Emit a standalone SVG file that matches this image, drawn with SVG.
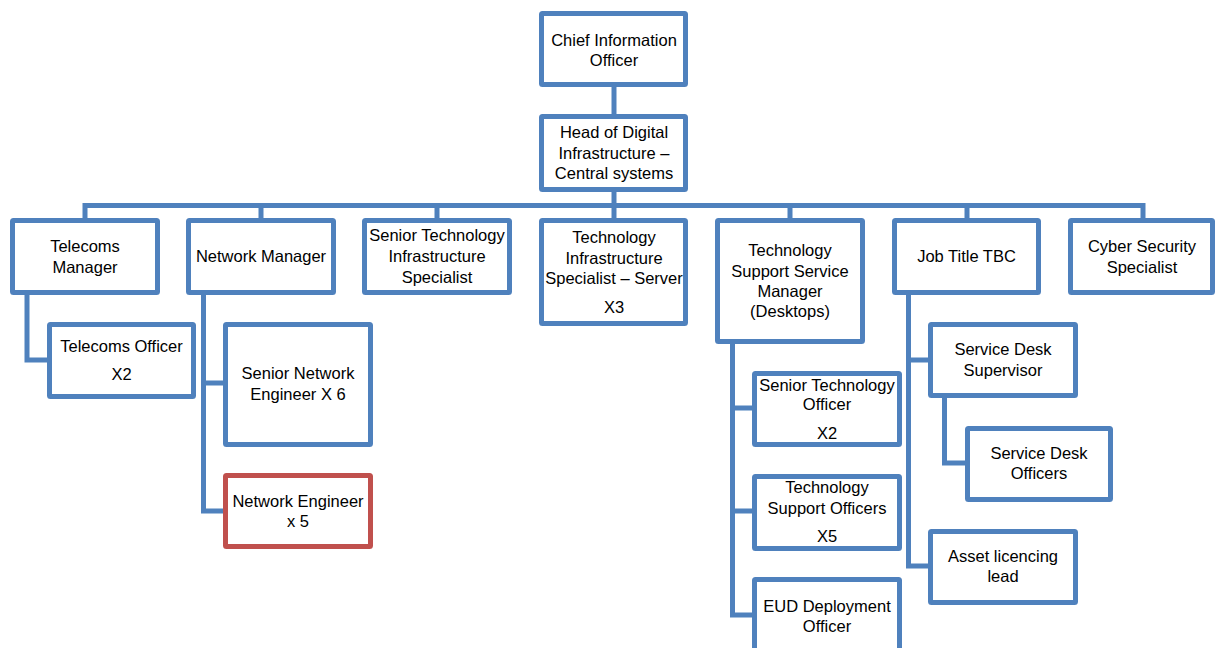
<svg xmlns="http://www.w3.org/2000/svg" width="1215" height="648" viewBox="0 0 1215 648">
<style>
.b{fill:#fff;stroke:#4F81BD;stroke-width:5}
.r{fill:#fff;stroke:#C0504D;stroke-width:5}
.c{fill:none;stroke:#4F81BD;stroke-width:5;stroke-linejoin:miter}
text{font-family:"Liberation Sans",Arial,sans-serif;font-size:16.5px;fill:#000;text-anchor:middle}
</style>
<rect width="1215" height="648" fill="#fff"/>
<g id="connectors">
<path class="c" d="M614,84.5V116.5"/>
<path class="c" d="M614,189.5V220.5"/>
<path class="c" d="M85,220.5V205.5H1143V220.5"/>
<path class="c" d="M261,205.5V220.5M437,205.5V220.5M790,205.5V220.5M967,205.5V220.5"/>
<path class="c" d="M27,292.5V360H49.5"/>
<path class="c" d="M203.5,292.5V511H225.5M203.5,383H225.5"/>
<path class="c" d="M732.5,341.5V615H754.5M732.5,408H754.5M732.5,511H754.5"/>
<path class="c" d="M908.5,292.5V566H930.5M908.5,360H930.5"/>
<path class="c" d="M944.5,395.5V463H967.5"/>
</g>
<g id="cio"><rect class="b" x="541.5" y="13.5" width="144" height="71" rx="1"/><text x="614" y="45.5">Chief Information</text><text x="614" y="66">Officer</text></g>
<g id="head"><rect class="b" x="541.5" y="116.5" width="144" height="73" rx="1"/><text x="614" y="138">Head of Digital</text><text x="614" y="158.5">Infrastructure –</text><text x="614" y="179">Central systems</text></g>
<g id="telecoms-manager"><rect class="b" x="12.5" y="220.5" width="145" height="72" rx="1"/><text x="85" y="252">Telecoms</text><text x="85" y="273">Manager</text></g>
<g id="network-manager"><rect class="b" x="188.5" y="220.5" width="145" height="72" rx="1"/><text x="261" y="262">Network Manager</text></g>
<g id="senior-tis"><rect class="b" x="364.5" y="220.5" width="145" height="72" rx="1"/><text x="437" y="241">Senior Technology</text><text x="437" y="262">Infrastructure</text><text x="437" y="283">Specialist</text></g>
<g id="tis-server"><rect class="b" x="541.5" y="220.5" width="144" height="103" rx="1"/><text x="614" y="243">Technology</text><text x="614" y="264">Infrastructure</text><text x="614" y="284">Specialist – Server</text><text x="614" y="313">X3</text></g>
<g id="tssm"><rect class="b" x="717.5" y="220.5" width="145" height="121" rx="1"/><text x="790" y="256">Technology</text><text x="790" y="277">Support Service</text><text x="790" y="297">Manager</text><text x="790" y="317">(Desktops)</text></g>
<g id="job-title"><rect class="b" x="894.5" y="220.5" width="144" height="72" rx="1"/><text x="966.5" y="262">Job Title TBC</text></g>
<g id="cyber"><rect class="b" x="1070.5" y="220.5" width="142" height="72" rx="1"/><text x="1142" y="252">Cyber Security</text><text x="1142" y="273">Specialist</text></g>
<g id="telecoms-officer"><rect class="b" x="49.5" y="324.5" width="144" height="72" rx="1"/><text x="121.5" y="352">Telecoms Officer</text><text x="121.5" y="380">X2</text></g>
<g id="senior-network-engineer"><rect class="b" x="225.5" y="324.5" width="145" height="120" rx="1"/><text x="298" y="379">Senior Network</text><text x="298" y="400">Engineer X 6</text></g>
<g id="network-engineer"><rect class="r" x="225.5" y="475.5" width="145" height="71" rx="1"/><text x="298" y="507">Network Engineer</text><text x="298" y="527">x 5</text></g>
<g id="senior-tech-officer"><rect class="b" x="754.5" y="373.5" width="145" height="71" rx="1"/><text x="827" y="391">Senior Technology</text><text x="827" y="410">Officer</text><text x="827" y="439">X2</text></g>
<g id="tech-support-officers"><rect class="b" x="754.5" y="476.5" width="145" height="72" rx="1"/><text x="827" y="493">Technology</text><text x="827" y="514">Support Officers</text><text x="827" y="542">X5</text></g>
<g id="eud"><rect class="b" x="754.5" y="579.5" width="145" height="100" rx="1"/><text x="827" y="612">EUD Deployment</text><text x="827" y="632">Officer</text></g>
<g id="sds"><rect class="b" x="930.5" y="324.5" width="145" height="71" rx="1"/><text x="1003" y="355">Service Desk</text><text x="1003" y="376">Supervisor</text></g>
<g id="sdo"><rect class="b" x="967.5" y="428.5" width="143" height="71" rx="1"/><text x="1039" y="459">Service Desk</text><text x="1039" y="479">Officers</text></g>
<g id="asset"><rect class="b" x="930.5" y="531.5" width="145" height="71" rx="1"/><text x="1003" y="562">Asset licencing</text><text x="1003" y="582">lead</text></g>
</svg>
